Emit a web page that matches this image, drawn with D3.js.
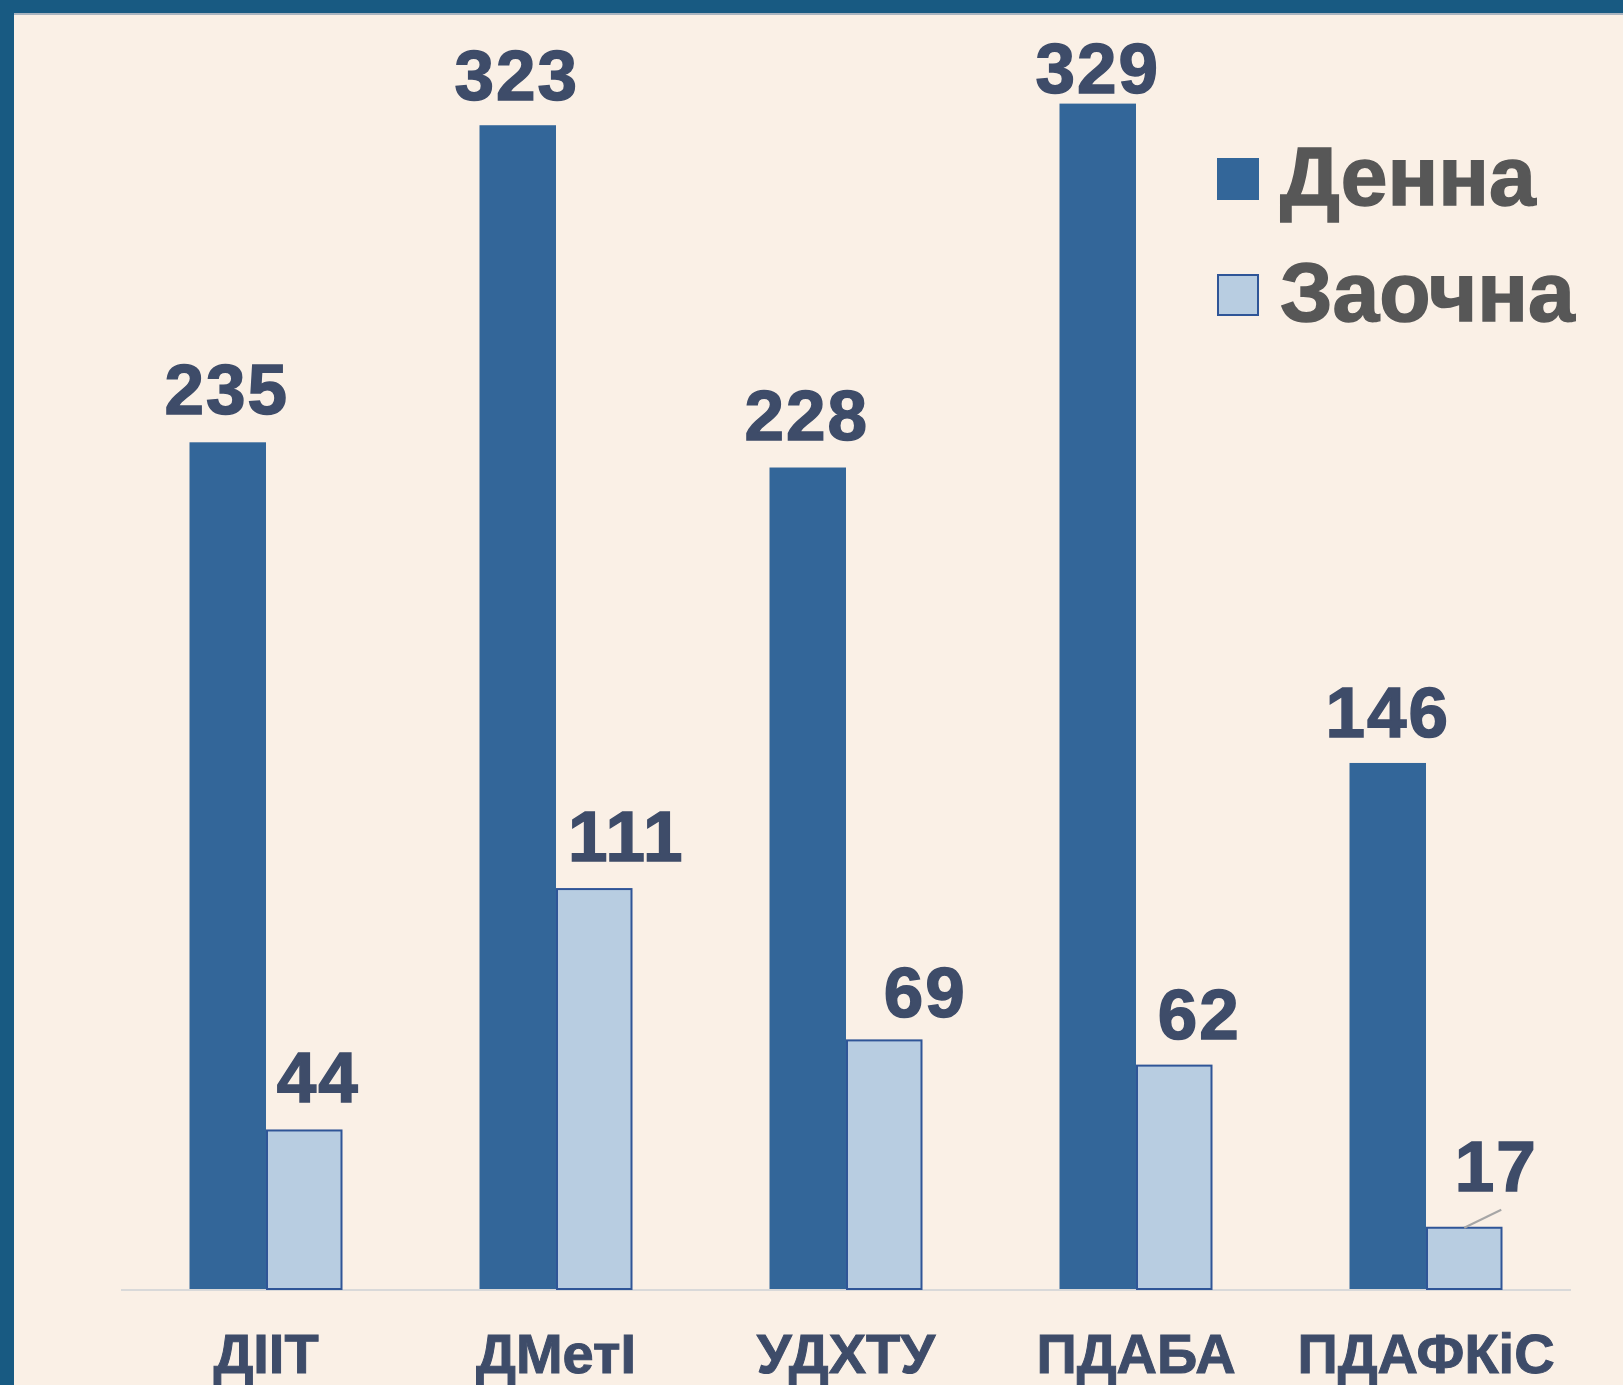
<!DOCTYPE html>
<html>
<head>
<meta charset="utf-8">
<script src="https://cdn.jsdelivr.net/npm/d3@7"></script>
<style>
body{margin:0;background:#faf0e6;overflow:hidden;}
text{font-family:"Liberation Sans",Arial,sans-serif;font-weight:bold;}
</style>
</head>
<body>
<script>
var categories = ["ДІІТ","ДМетІ","УДХТУ","ПДАБА","ПДАФКіС"];
var seriesNames = ["Денна","Заочна"];
var denna = [235,323,228,329,146];
var zaochna = [44,111,69,62,17];

// manual label nudges (like in the original slide)
var dennaNudge = [[-1,0],[-1,3],[-1,0],[0,17],[0,2]];
var zaochnaNudge = [[14,0],[32,0],[41,5],[25,1],[32,-9]];

var width = 1623;
var height = 1385;
var colors = ["#336699","#b8cde1"];

var svg = d3.select("body")
.append("svg")
.attr("width",width)
.attr("height",height);

svg.append("rect").attr("width",width).attr("height",height).attr("fill","#faf0e6");
// frame of the slide
svg.append("rect").attr("x",0).attr("y",0).attr("width",width).attr("height",13).attr("fill","#185a82");
svg.append("rect").attr("x",0).attr("y",13).attr("width",width).attr("height",2).attr("fill","#a9b4bf");
svg.append("rect").attr("x",0).attr("y",0).attr("width",14).attr("height",height).attr("fill","#185a82");

var baseY = 1289;

var xScale = d3.scaleBand()
.domain(categories)
.range([121,1571]);

var xInner = d3.scaleBand()
.domain([0,1])
.range([xScale.bandwidth()/2 - 76.5, xScale.bandwidth()/2 + 76.5]);

var yScale = d3.scaleLinear()
.domain([0,350])
.range([baseY, baseY - 350*3.603]);

// baseline
svg.append("line")
.attr("x1",121).attr("x2",1571)
.attr("y1",baseY+1).attr("y2",baseY+1)
.attr("stroke","#d9d9d9")
.attr("stroke-width",2);

var groups = svg.selectAll(".grp")
.data(categories)
.enter()
.append("g")
.attr("transform",function(d){ return "translate(" + xScale(d) + ",0)"; });

groups.append("rect")
.attr("x",xInner(0))
.attr("y",function(d,i){ return yScale(denna[i]); })
.attr("width",xInner.bandwidth())
.attr("height",function(d,i){ return baseY - yScale(denna[i]); })
.attr("fill",colors[0]);

groups.append("rect")
.attr("x",xInner(1)+1)
.attr("y",function(d,i){ return yScale(zaochna[i]); })
.attr("width",xInner.bandwidth()-2)
.attr("height",function(d,i){ return baseY - yScale(zaochna[i]); })
.attr("fill",colors[1])
.attr("stroke","#2f5597")
.attr("stroke-width",2);

groups.append("text")
.attr("x",function(d,i){ return xInner(0) + xInner.bandwidth()/2 + dennaNudge[i][0]; })
.attr("y",function(d,i){ return yScale(denna[i]) - 28 + dennaNudge[i][1]; })
.attr("text-anchor","middle")
.attr("font-size","71px")
.attr("letter-spacing","2px")
.attr("fill","#3e4c69")
.attr("stroke","#3e4c69")
.attr("stroke-width",1.5)
.text(function(d,i){ return denna[i]; });

groups.append("text")
.attr("x",function(d,i){ return xInner(1) + xInner.bandwidth()/2 + zaochnaNudge[i][0]; })
.attr("y",function(d,i){ return yScale(zaochna[i]) - 28 + zaochnaNudge[i][1]; })
.attr("text-anchor","middle")
.attr("font-size","71px")
.attr("letter-spacing","2px")
.attr("fill","#3e4c69")
.attr("stroke","#3e4c69")
.attr("stroke-width",1.5)
.text(function(d,i){ return zaochna[i]; });

// leader line for the last small label
var last = categories.length - 1;
svg.append("line")
.attr("x1",xScale(categories[last]) + xInner(1) + xInner.bandwidth()/2)
.attr("y1",yScale(zaochna[last]))
.attr("x2",xScale(categories[last]) + xInner(1) + xInner.bandwidth()/2 + 37)
.attr("y2",yScale(zaochna[last]) - 18)
.attr("stroke","#a6a6a6")
.attr("stroke-width",2);

// category labels
var xAxis = d3.axisBottom(xScale).tickSize(0).tickPadding(0);
var axisG = svg.append("g")
.attr("transform","translate(0," + baseY + ")")
.call(xAxis);
axisG.select(".domain").remove();
axisG.selectAll("text")
.attr("y",84)
.attr("dy",0)
.attr("font-size","56px")
.attr("font-family","'Liberation Sans',Arial,sans-serif")
.attr("font-weight","bold")
.attr("fill","#3e4c69")
.attr("stroke","#3e4c69")
.attr("stroke-width",1);

// legend
var legend = svg.selectAll(".legend")
.data(seriesNames)
.enter()
.append("g")
.attr("transform",function(d,i){ return "translate(1217," + (158 + i*116) + ")"; });

legend.append("rect")
.attr("x",function(d,i){ return i ? 1 : 0; })
.attr("y",function(d,i){ return i ? 1 : 0; })
.attr("width",function(d,i){ return i ? 40 : 42; })
.attr("height",function(d,i){ return i ? 40 : 42; })
.attr("fill",function(d,i){ return colors[i]; })
.attr("stroke",function(d,i){ return i ? "#2f5597" : "none"; })
.attr("stroke-width",2);

legend.append("text")
.attr("x",63)
.attr("y",47)
.attr("font-size","84px")
.attr("fill","#575757")
.attr("stroke","#575757")
.attr("stroke-width",1.5)
.text(function(d){ return d; });
</script>
</body>
</html>
